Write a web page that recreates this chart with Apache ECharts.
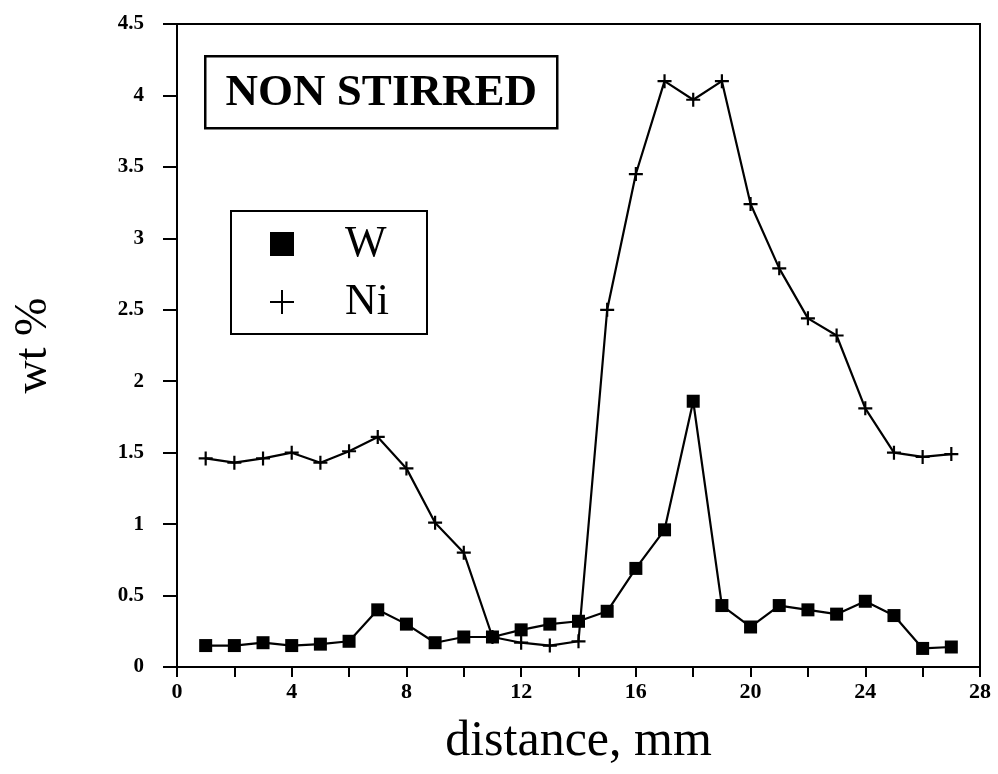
<!DOCTYPE html>
<html>
<head>
<meta charset="utf-8">
<script src="https://cdn.jsdelivr.net/npm/echarts@6/dist/echarts.min.js"></script>
<style>html,body{margin:0;padding:0;background:#fff}#c{width:998px;height:774px}</style>
</head>
<body>
<div id="c"></div>
<script>
const distance = [1,2,3,4,5,6,7,8,9,10,11,12,13,14,15,16,17,18,19,20,21,22,23,24,25,26,27];
const wValues = [0.15,0.15,0.17,0.15,0.16,0.18,0.40,0.30,0.17,0.21,0.21,0.26,0.30,0.32,0.39,0.69,0.96,1.86,0.43,0.28,0.43,0.40,0.37,0.46,0.36,0.13,0.14];
const niValues = [1.46,1.43,1.46,1.50,1.43,1.51,1.61,1.39,1.01,0.80,0.21,0.17,0.15,0.18,2.50,3.45,4.10,3.97,4.10,3.24,2.79,2.44,2.32,1.81,1.50,1.47,1.49];
const xTicks = [0,4,8,12,16,20,24,28];
const yTicks = [0,0.5,1,1.5,2,2.5,3,3.5,4,4.5];
const titleText = 'NON STIRRED';

const serif = '"Liberation Serif", "DejaVu Serif", serif';
const plus = 'path://M0,5 L10,5 M5,0 L5,10';

const chart = echarts.init(document.getElementById('c'));
chart.setOption({
  animation: false,
  backgroundColor: '#fff',
  grid: { left: 177, right: 18, top: 24, bottom: 107, show: true, borderColor: '#000', borderWidth: 2 },
  xAxis: {
    type: 'value', min: xTicks[0], max: xTicks[xTicks.length-1], interval: 4,
    name: 'distance, mm', nameLocation: 'middle', nameGap: 50,
    nameTextStyle: { fontFamily: serif, fontSize: 50, color: '#000' },
    axisLine: { lineStyle: { color: '#000', width: 2 } },
    axisTick: { length: 10, lineStyle: { color: '#000', width: 2 } },
    minorTick: { show: true, splitNumber: 2, length: 10, lineStyle: { color: '#000', width: 2 } },
    axisLabel: { fontFamily: serif, fontSize: 22, fontWeight: 'bold', color: '#000', margin: 14 },
    splitLine: { show: false }, minorSplitLine: { show: false }
  },
  yAxis: {
    type: 'value', min: yTicks[0], max: yTicks[yTicks.length-1], interval: 0.5,
    name: 'wt %', nameLocation: 'middle', nameGap: 120,
    nameTextStyle: { fontFamily: serif, fontSize: 46, color: '#000' },
    axisLine: { lineStyle: { color: '#000', width: 2 } },
    axisTick: { length: 14, lineStyle: { color: '#000', width: 2 } },
    axisLabel: { fontFamily: serif, fontSize: 21, fontWeight: 'bold', color: '#000', margin: 33 },
    splitLine: { show: false }
  },
  legend: {
    orient: 'vertical', left: 231, top: 211,
    padding: [11, 38, 10, 38],
    borderColor: '#000', borderWidth: 2,
    itemGap: 14, itemWidth: 24, itemHeight: 24,
    data: [
      { name: 'W', icon: 'rect' },
      { name: 'Ni', icon: plus, itemStyle: { color: '#000', borderColor: '#000', borderWidth: 2 } }
    ],
    textStyle: { fontFamily: serif, fontSize: 44, lineHeight: 44, color: '#000', padding: [0, 0, 0, 46] }
  },
  graphic: [
    {
      type: 'group', left: 204, top: 55,
      children: [
        { type: 'rect', shape: { x: 0, y: 0, width: 352, height: 72 }, style: { fill: '#fff', stroke: '#000', lineWidth: 2.5 } },
        { type: 'text', x: 176, y: 37, style: { text: titleText, font: 'bold 45px ' + serif, fill: '#000', textAlign: 'center', textVerticalAlign: 'middle' } }
      ]
    }
  ],
  series: [
    {
      name: 'W', type: 'line',
      data: distance.map((d, i) => [d, wValues[i]]),
      symbol: 'rect', symbolSize: 13,
      itemStyle: { color: '#000' },
      lineStyle: { color: '#000', width: 2.2 }
    },
    {
      name: 'Ni', type: 'line',
      data: distance.map((d, i) => [d, niValues[i]]),
      symbol: plus, symbolSize: 14,
      itemStyle: { color: '#000', borderColor: '#000', borderWidth: 2.2 },
      lineStyle: { color: '#000', width: 2.2 }
    }
  ]
});
</script>
</body>
</html>
